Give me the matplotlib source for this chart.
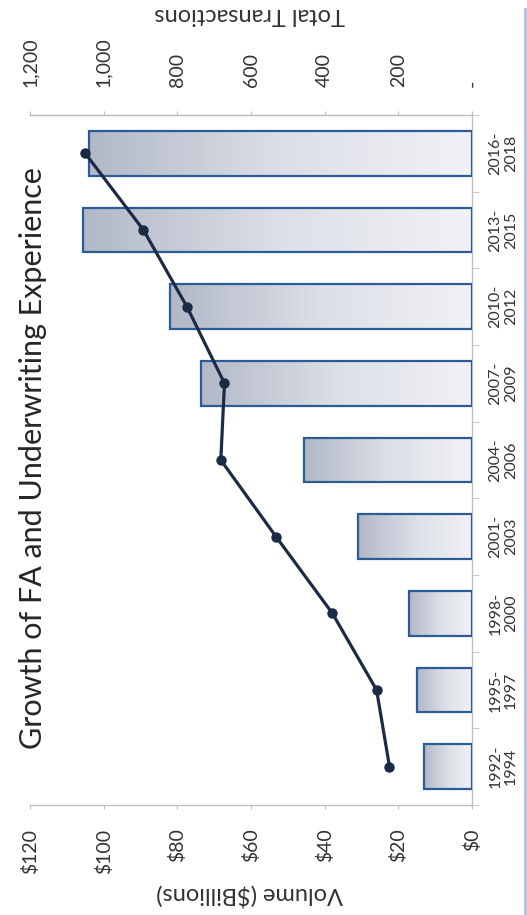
import matplotlib
matplotlib.use("Agg")
import matplotlib.pyplot as plt
import numpy as np
from matplotlib.colors import LinearSegmentedColormap

plt.rcParams['font.family'] = ['Lato', 'DejaVu Sans']

# data (original chart is drawn rotated 90 degrees counter-clockwise)
periods = ["1992-\n1994", "1995-\n1997", "1998-\n2000", "2001-\n2003", "2004-\n2006",
           "2007-\n2009", "2010-\n2012", "2013-\n2015", "2016-\n2018"]
volume = [13, 15, 17, 31, 45.5, 73.5, 82, 105.5, 104]          # $ billions
transactions = [224, 259, 379, 532, 682, 672, 774, 892, 1050]

vol_ticks = [0, 20, 40, 60, 80, 100, 120]
vol_labels = ["$0", "$20", "$40", "$60", "$80", "$100", "$120"]
tr_ticks = [0, 200, 400, 600, 800, 1000, 1200]
tr_labels = ["-", "200", "400", "600", "800", "1,000", "1,200"]

axis_grey = "#bfbfbf"
text_col = "#333333"

fig = plt.figure(figsize=(5.27, 9.15), dpi=100)
ax = fig.add_axes([30 / 527, 110 / 915, 442 / 527, 690 / 915])

y = np.arange(len(periods))
h = 0.58
bars = ax.barh(y, volume, height=h, facecolor="none", edgecolor="#2b5c96", linewidth=1.6, zorder=3)

cmap = LinearSegmentedColormap.from_list("grad", ["#f1f2f6", "#dcdfe7", "#b2b8c7"])
grad = np.linspace(0, 1, 256).reshape(1, -1)
for b, v, yi in zip(bars, volume, y):
    im = ax.imshow(grad, cmap=cmap, aspect="auto", extent=(0, v, yi - h / 2, yi + h / 2),
                   zorder=2, interpolation="bicubic")
    im.set_clip_path(b)

ax.set_xlim(120, 0)
ax.set_ylim(-0.5, len(periods) - 0.5)

ax.spines["left"].set_visible(False)
for s in ["right", "bottom", "top"]:
    ax.spines[s].set_color(axis_grey)
    ax.spines[s].set_linewidth(1)

ax.set_xticks(vol_ticks)
ax.set_xticklabels(vol_labels, rotation=90, fontsize=14, color=text_col)
ax.tick_params(axis="x", direction="out", length=3, color=axis_grey, pad=14)

ax.yaxis.tick_right()
ax.set_yticks(y)
ax.set_yticklabels(periods, rotation=90, fontsize=11.5, color=text_col,
                   multialignment="center", linespacing=1.1)
ax.set_yticks(np.arange(len(periods) + 1) - 0.5, minor=True)
ax.tick_params(axis="y", which="major", length=0, pad=12)
ax.tick_params(axis="y", which="minor", direction="out", length=5, color=axis_grey)
for lab in ax.get_yticklabels():
    lab.set_ha("left")
    lab.set_va("center")

ax2 = ax.twiny()
ax2.plot(transactions, y, color="#1c2b45", linewidth=2.3, marker="o", markersize=6.5, zorder=5)
ax2.set_xlim(1200, 0)
ax2.set_ylim(-0.5, len(periods) - 0.5)
for s in ["left", "right", "bottom"]:
    ax2.spines[s].set_visible(False)
ax2.spines["top"].set_color(axis_grey)
ax2.set_xticks(tr_ticks)
ax2.set_xticklabels(tr_labels, rotation=90, fontsize=14, color=text_col)
ax2.tick_params(axis="x", direction="out", length=3, color=axis_grey, pad=17)

fig.text(33 / 527, 1 - 458 / 915, "Growth of FA and Underwriting Experience", rotation=90,
         ha="center", va="center", fontsize=22, color="#262626")
fig.text(250 / 527, 1 - 895 / 915, "Volume ($Billions)", rotation=180,
         ha="center", va="center", fontsize=17, color=text_col)
fig.text(250 / 527, 1 - 14 / 915, "Total Transactions", rotation=180,
         ha="center", va="center", fontsize=17, color=text_col)

# slide frame edge on the right
fig.add_artist(plt.Line2D([0.996, 0.996], [0, 0.99], color="#a9c4e0", linewidth=2))

fig.savefig("out.png", dpi=100)
